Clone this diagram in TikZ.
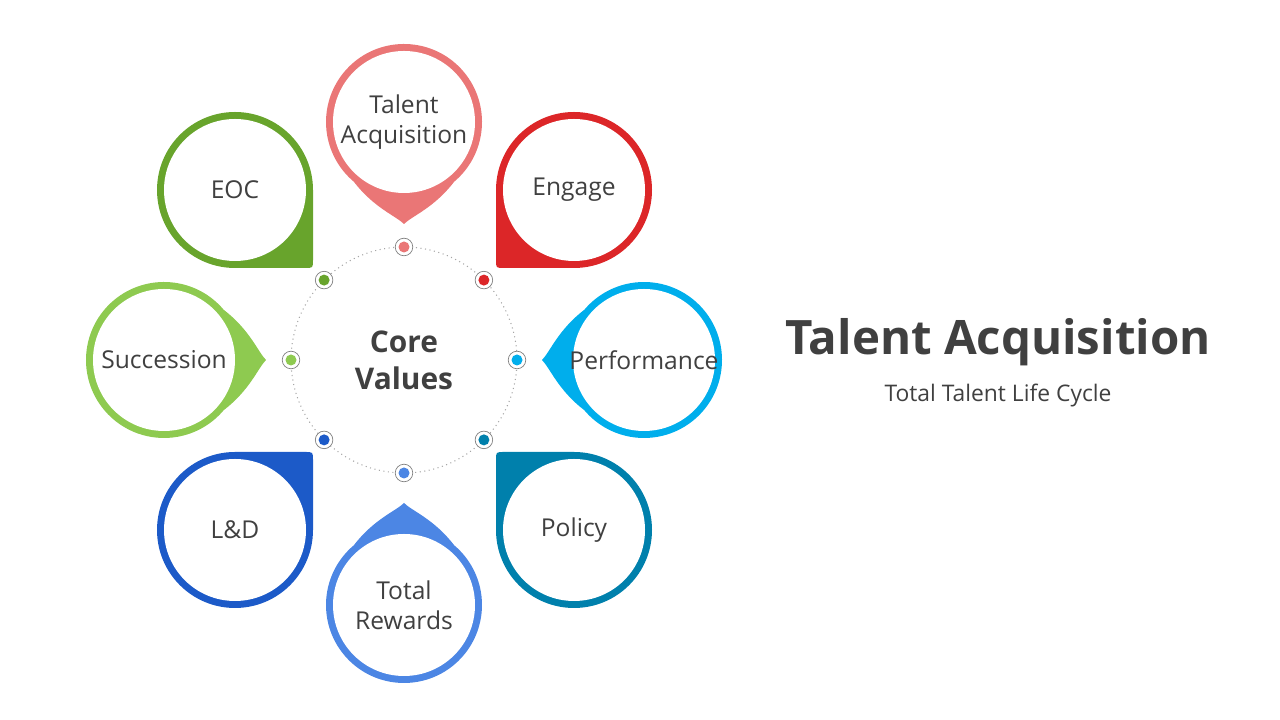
\documentclass[tikz,border=0pt]{standalone}
\usepackage{fontspec}
\setmainfont{Open Sans}
\usetikzlibrary{calc}
\definecolor{txtgray}{RGB}{64,64,64}
\definecolor{cTA}{RGB}{234,118,118}
\definecolor{cEN}{RGB}{220,38,40}
\definecolor{cPE}{RGB}{0,174,236}
\definecolor{cPO}{RGB}{0,128,172}
\definecolor{cTR}{RGB}{76,134,228}
\definecolor{cLD}{RGB}{28,90,200}
\definecolor{cSU}{RGB}{142,202,80}
\definecolor{cEO}{RGB}{104,164,44}

% petal with a tip pointing (locally) down
\newcommand{\tipPetal}[3]{%
  \begin{scope}[shift={#1},rotate=#2]
    \fill [#3] (230:78) .. controls (-30,-86) and (-8,-94) .. (0,-102)
      .. controls (8,-94) and (30,-86) .. (310:78) arc (310:590:78) -- cycle;
    \fill [white] (0,0) circle (71);
  \end{scope}}
% petal with a square corner (locally) at lower left
\newcommand{\cornerPetal}[3]{%
  \begin{scope}[shift={#1},rotate=#2]
    \fill [#3] (180:78) -- (-78,-70) .. controls (-78,-78) .. (-70,-78)
      -- (270:78) arc (270:540:78) -- cycle;
    \fill [white] (0,0) circle (71);
  \end{scope}}

\begin{document}
\begin{tikzpicture}[
x=0.2mm, y=0.2mm,
label/.style = {
	align=center,
	text=txtgray,
	font=\fontsize{14}{17}\selectfont
	},
ringDot/.style = {
	circle,
	draw=gray,
	line width=0.4pt,
	fill=white,
	inner sep=0pt,
	minimum size=10pt
	}
]
\useasboundingbox (0,0) rectangle (1280,720);

% CORE RING
\draw [gray!70, dotted, line width=0.6pt] (404,360) circle (113);
\node [align=center, text=txtgray, font=\fontsize{17}{21}\selectfont\bfseries] (core) at (404,360) {Core\\Values};

% PETALS
\tipPetal{(404,598)}{0}{cTA}
\cornerPetal{(574,530)}{0}{cEN}
\tipPetal{(644,360)}{-90}{cPE}
\cornerPetal{(574,190)}{-90}{cPO}
\tipPetal{(404,115)}{180}{cTR}
\cornerPetal{(235,190)}{180}{cLD}
\tipPetal{(164,360)}{90}{cSU}
\cornerPetal{(235,530)}{90}{cEO}

\node [label] (ta) at (404,598) {Talent\\Acquisition};
\node [label] (en) at (574,530) {Engage};
\node [label] (pe) at (644,360) {Performance};
\node [label] (po) at (574,190) {Policy};
\node [label] (tr) at (404,115) {Total\\Rewards};
\node [label] (ld) at (235,190) {L\&D};
\node [label] (su) at (164,360) {Succession};
\node [label] (eo) at (235,530) {EOC};

% RING DOTS
\foreach \ang/\col [count=\i] in {90/cTA,45/cEN,0/cPE,-45/cPO,-90/cTR,-135/cLD,180/cSU,135/cEO}{
  \node [ringDot] (dot\i) at ($(404,360)+(\ang:113)$) {};
  \fill [\col] (dot\i) circle (5.5);
}

% TITLE
\node [text=txtgray, font=\fontsize{27}{32}\selectfont\bfseries] (title) at (998,378) {Talent Acquisition};
\node [text=txtgray, font=\fontsize{13}{16}\selectfont] (sub) at (998,324) {Total Talent Life Cycle};
\end{tikzpicture}
\end{document}
